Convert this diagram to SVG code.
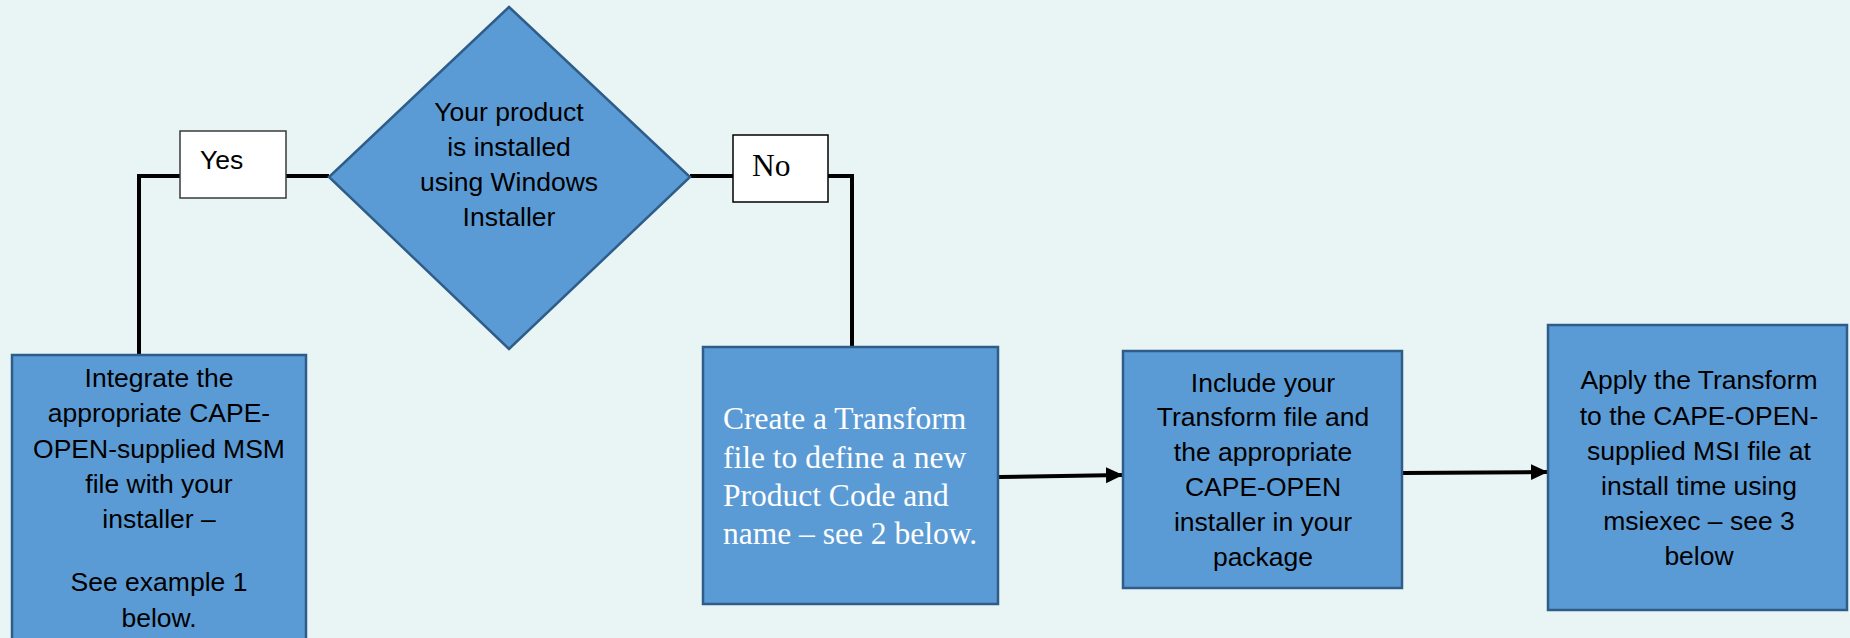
<svg xmlns="http://www.w3.org/2000/svg" width="1850" height="638" viewBox="0 0 1850 638">
  <defs>
    <marker id="arrow" markerUnits="userSpaceOnUse" markerWidth="18" markerHeight="18" viewBox="0 0 18 18" refX="16" refY="9" orient="auto">
      <path d="M0,1 L17,9 L0,17 Z" fill="#000"/>
    </marker>
    <style>
      .node { fill: #5B9BD5; stroke: #2F5D8A; stroke-width: 2.5; }
      .label { fill: #FFFFFF; stroke: #3A3A3A; stroke-width: 1.5; }
      .sans { font-family: "Liberation Sans", Arial, sans-serif; font-size: 26.5px; fill: #000; text-anchor: middle; }
      .serif { font-family: "Liberation Serif", "Times New Roman", serif; font-size: 31.5px; }
      .conn { fill: none; stroke: #000; stroke-width: 4; }
    </style>
  </defs>
  <rect x="0" y="0" width="1850" height="638" fill="#E9F5F5"/>

  <g id="connectors">
    <polyline class="conn" points="329,176 286,176"/>
    <polyline class="conn" points="180,176 139,176 139,355"/>
    <polyline class="conn" points="690,176 733,176"/>
    <polyline class="conn" points="828,176 852,176 852,347"/>
    <line class="conn" x1="999" y1="477" x2="1122" y2="475" marker-end="url(#arrow)"/>
    <line class="conn" x1="1403" y1="473" x2="1547" y2="472" marker-end="url(#arrow)"/>
  </g>

  <g id="decision">
    <polygon class="node" points="509,7 690,177 509,349 329,177"/>
    <text class="sans" x="509" y="121">Your product</text>
    <text class="sans" x="509" y="156">is installed</text>
    <text class="sans" x="509" y="191">using Windows</text>
    <text class="sans" x="509" y="226">Installer</text>
  </g>

  <g id="label-yes">
    <rect class="label" x="180" y="131" width="106" height="67"/>
    <text class="sans" x="200" y="169" style="text-anchor:start">Yes</text>
  </g>

  <g id="label-no">
    <rect class="label" x="733" y="135" width="95" height="67" style="stroke:#000"/>
    <text class="serif" x="752" y="176" fill="#000">No</text>
  </g>

  <g id="integrate">
    <rect class="node" x="12" y="355" width="294" height="300"/>
    <text class="sans" x="159" y="387">Integrate the</text>
    <text class="sans" x="159" y="422">appropriate CAPE-</text>
    <text class="sans" x="159" y="458">OPEN-supplied MSM</text>
    <text class="sans" x="159" y="493">file with your</text>
    <text class="sans" x="159" y="528">installer –</text>
    <text class="sans" x="159" y="591">See example 1</text>
    <text class="sans" x="159" y="627">below.</text>
  </g>

  <g id="create">
    <rect class="node" x="703" y="347" width="295" height="257"/>
    <text class="serif" x="723" y="429" fill="#FFFFFF">Create a Transform</text>
    <text class="serif" x="723" y="468" fill="#FFFFFF">file to define a new</text>
    <text class="serif" x="723" y="506" fill="#FFFFFF">Product Code and</text>
    <text class="serif" x="723" y="544" fill="#FFFFFF">name – see 2 below.</text>
  </g>

  <g id="include">
    <rect class="node" x="1123" y="351" width="279" height="237"/>
    <text class="sans" x="1263" y="392">Include your</text>
    <text class="sans" x="1263" y="426">Transform file and</text>
    <text class="sans" x="1263" y="461">the appropriate</text>
    <text class="sans" x="1263" y="496">CAPE-OPEN</text>
    <text class="sans" x="1263" y="531">installer in your</text>
    <text class="sans" x="1263" y="566">package</text>
  </g>

  <g id="apply">
    <rect class="node" x="1548" y="325" width="299" height="285"/>
    <text class="sans" x="1699" y="389">Apply the Transform</text>
    <text class="sans" x="1699" y="425">to the CAPE-OPEN-</text>
    <text class="sans" x="1699" y="460">supplied MSI file at</text>
    <text class="sans" x="1699" y="495">install time using</text>
    <text class="sans" x="1699" y="530">msiexec – see 3</text>
    <text class="sans" x="1699" y="565">below</text>
  </g>
</svg>
